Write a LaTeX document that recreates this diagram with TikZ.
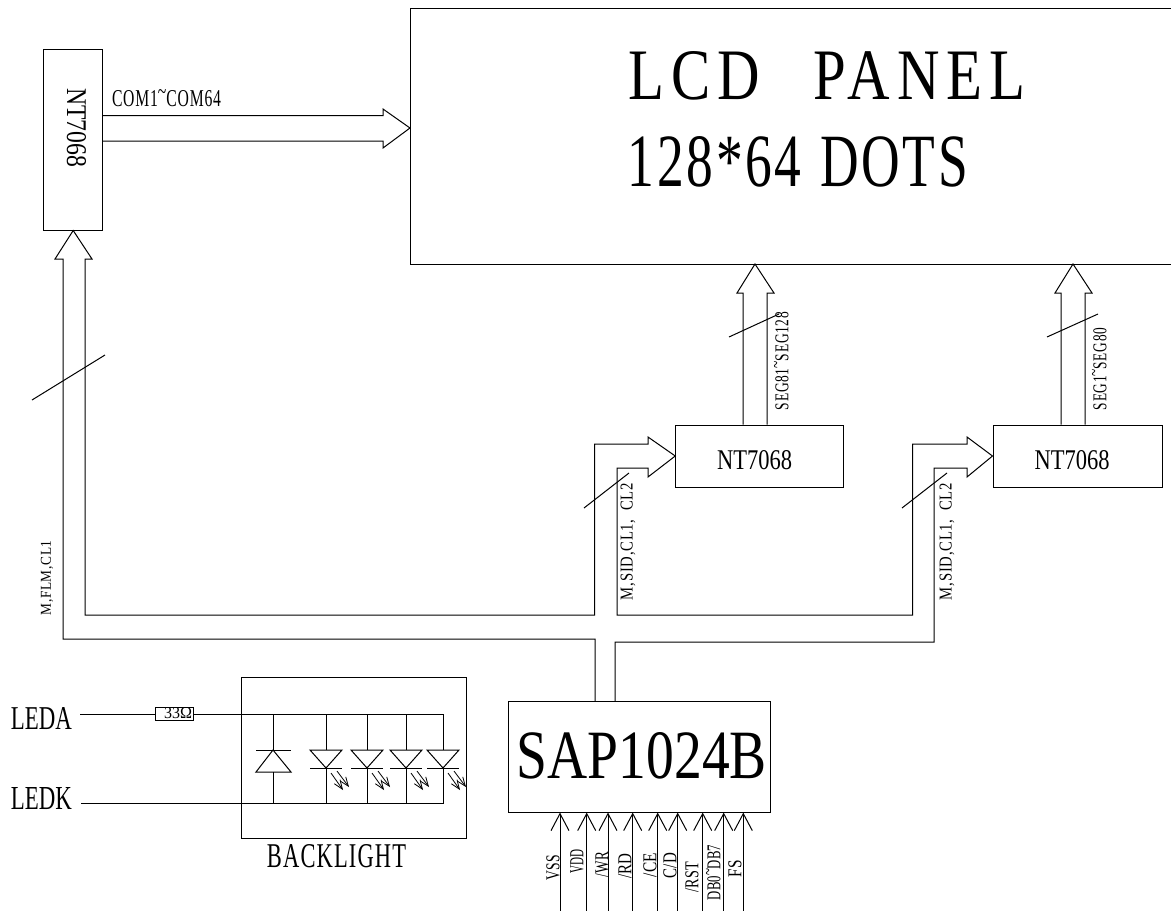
\documentclass[tikz,border=0pt]{standalone}
\usepackage{fontspec}
\usepackage{graphicx}
\usetikzlibrary{arrows.meta}
\setmainfont{Liberation Serif}
\newfontfamily\widefont[LetterSpace=12]{Liberation Serif}
\newfontfamily\spfont[LetterSpace=5]{Liberation Serif}
\newcommand{\fitbox}[3]{\resizebox{#1pt}{#2pt}{#3}}
\newcommand{\tld}{\smash{\raisebox{.32em}{\textasciitilde}}}
\tikzset{
  ln/.style={line width=1pt,line join=miter,line cap=butt},
  blockbox/.style={draw,ln,inner sep=0pt,minimum width=#1},
  txt/.style={inner sep=0pt,outer sep=0pt},
  vtxt/.style={inner sep=0pt,outer sep=0pt,rotate=90},
  pinarrow/.style={ln,{Straight Barb[length=17pt,width=18pt,line width=1pt]}-},
  lightarrow/.style={line width=.8pt,-{Straight Barb[length=9pt,width=7pt,line width=.8pt]}},
}
\begin{document}
\begin{tikzpicture}[x=1pt,y=-1pt]
\useasboundingbox (0,0) rectangle (1171,911);
% panel
\coordinate (panelTL) at (410,8);
\coordinate (panelBL) at (410,264);
\draw[ln] (1171,8) -- (panelTL) -- (panelBL) -- (1171,264);
\node[txt] (lcd) at (827,76) {\fitbox{397}{48}{\widefont LCD\hspace{.9em}PANEL}};
\node[txt] (dots) at (798,162) {\fitbox{340}{50}{\spfont 128*64\hspace{.35em}DOTS}};
% blocks
\node[blockbox=58.5pt,minimum height=181pt] (left) at (73.2,139.5) {};
\node[blockbox=167.5pt,minimum height=62pt] (mid) at (759.5,456) {};
\node[blockbox=169pt,minimum height=62pt] (right) at (1077.5,456) {};
\node[blockbox=262pt,minimum height=110.5pt] (sap) at (639,756.8) {};
\node[blockbox=225pt,minimum height=161pt] (bl) at (353.5,757.5) {};
\node[txt,rotate=-90] (leftt) at (76.5,127.5) {\fitbox{79}{19}{NT7068}};
\node[txt] (midt) at (754.5,460.5) {\fitbox{75}{19}{NT7068}};
\node[txt] (rightt) at (1072,460.5) {\fitbox{75}{19}{NT7068}};
\node[txt] (sapt) at (642,756) {\fitbox{250}{46}{SAP1024B}};
% COM bus
\draw[ln] (left.east |- 0,115.5) -- (383,115.5) -- (383,109) -- (panelTL |- 0,128) -- (383,148) -- (383,141) -- (left.east |- 0,141);
\node[txt] (com) at (166.5,99) {\fitbox{109}{16}{\spfont COM1\tld COM64}};
% main buses
\draw[ln] (595,0 |- sap.north) -- (595,639) -- (63,639) -- (63,259) -- (55,259) -- (left.south) -- (92,259) -- (85,259) -- (85,615) -- (594.5,615) -- (594.5,444) -- (648,444) -- (648,437) -- (mid.west) -- (648,477) -- (648,468) -- (617,468) -- (617,615) -- (912.7,615) -- (912.7,444) -- (967,444) -- (967,437) -- (right.west) -- (967,477) -- (967,468) -- (934,468) -- (934,642) -- (615,642) -- (615,0 |- sap.north);
% up buses
\draw[ln] (743,0 |- mid.north) -- (743,293) -- (737,293) -- (755,0 |- panelBL) -- (774,293) -- (767,293) -- (767,0 |- mid.north);
\draw[ln] (1061,0 |- right.north) -- (1061,293) -- (1055,293) -- (1073,0 |- panelBL) -- (1092,293) -- (1085,293) -- (1085,0 |- right.north);
% slashes
\coordinate (s1a) at (32,400); \coordinate (s1b) at (105,355);
\coordinate (s2a) at (584,508); \coordinate (s2b) at (629,473);
\coordinate (s3a) at (902,508); \coordinate (s3b) at (947,473);
\coordinate (s4a) at (729,337); \coordinate (s4b) at (779,314);
\coordinate (s5a) at (1047,337); \coordinate (s5b) at (1098,314);
\draw[ln] (s1a) -- (s1b); \draw[ln] (s2a) -- (s2b); \draw[ln] (s3a) -- (s3b); \draw[ln] (s4a) -- (s4b); \draw[ln] (s5a) -- (s5b);
% bus labels
\node[vtxt] (seg1) at (782,361) {\fitbox{98}{13}{\spfont SEG81\tld SEG128}};
\node[vtxt] (seg2) at (1100,369) {\fitbox{82}{13}{\spfont SEG1\tld SEG80}};
\node[vtxt] (m1) at (628,541.5) {\fitbox{117}{12}{\spfont M,SID,CL1, \ CL2}};
\node[vtxt] (m2) at (947,541.5) {\fitbox{117}{12}{\spfont M,SID,CL1, \ CL2}};
\node[vtxt] (m3) at (47,578) {\fitbox{75}{10}{\spfont M,FLM,CL1}};
% pins
\foreach \px/\lbl/\cx/\cy/\w [count=\i] in {560/VSS/553/867.5/25, 586.7/VDD/577/861/24, 608/{/WR}/602/864.5/25, 632.7/{/RD}/625/866/25, 657.7/{/CE}/650/865/24, 677.7/{C/D}/670/865.5/25, 702.7/{/RST}/692/877/30, 723.7/{DB0\tld DB7}/714/872.5/55, 743.3/FS/735/868.5/17}{
  \coordinate (pin\i) at (\px,911);
  \draw[pinarrow] (pin\i |- sap.south) -- (pin\i);
  \node[vtxt] (pinlabel\i) at (\cx,\cy) {\fitbox{\w}{13}{\lbl}};
}
% backlight
\node[txt] (leda) at (41.5,719) {\fitbox{61}{22}{LEDA}};
\node[txt] (ledk) at (41.5,799) {\fitbox{61}{22}{LEDK}};
\node[txt] (blt) at (336.5,856.5) {\fitbox{139}{23}{\spfont BACKLIGHT}};
\node[draw,ln,inner sep=0pt,minimum width=38pt,minimum height=13pt] (res) at (174,713.5) {};
\node[txt] (rest) at (178,713.5) {\fitbox{28}{11}{33Ω}};
\coordinate (ledaEnd) at (80,714);
\coordinate (ledkEnd) at (81,803);
\draw[ln] (ledaEnd) -- (res.west |- ledaEnd);
\draw[ln] (res.east |- ledaEnd) -- (443,714) -- (443,750);
\draw[ln] (ledkEnd) -- (443,803) -- (443,768);
% protect diode
\draw[ln] (273,714) -- (273,750);
\draw[ln] (256,750) -- (291,750);
\draw[ln] (273,750) -- (256,772) -- (291,772) -- cycle;
\draw[ln] (273,772) -- (273,803);
% LEDs
\foreach \x in {326,367,406,443}{
  \draw[ln] (\x,714) -- (\x,750);
  \draw[ln] (\x-16,750) -- (\x+16,750) -- (\x,768) -- cycle;
  \draw[ln] (\x-16,768) -- (\x+16,768);
  \draw[ln] (\x,768) -- (\x,803);
  \draw[lightarrow] (\x+5,773) -- (\x+17,790);
  \draw[lightarrow] (\x+11,771) -- (\x+23,787);
}
\end{tikzpicture}
\end{document}
